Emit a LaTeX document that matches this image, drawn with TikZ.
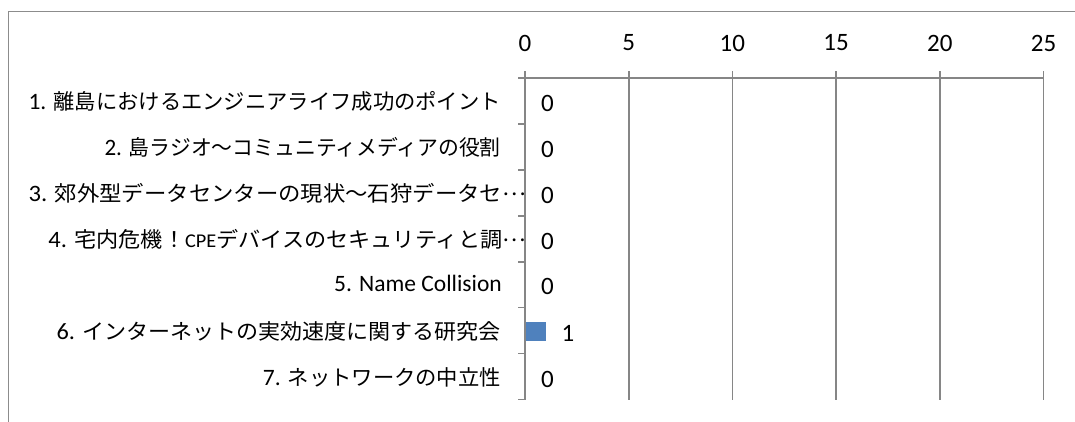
\documentclass[tikz,border=0pt]{standalone}
\usepackage{fontspec}
\setmainfont{Carlito}
\newfontfamily\cjk{Noto Sans CJK JP}
\definecolor{gridgray}{HTML}{868686}
\definecolor{framegray}{HTML}{8C8C8C}
\definecolor{barblue}{HTML}{4F81BD}
\newcommand\jp[1]{{\fontsize{21.3}{26}\cjk #1}}
\newcommand\smlat[1]{{\fontsize{19.5}{24}\selectfont #1}}
\newcommand\midellip{\raisebox{6pt}{\fontsize{21.3}{26}\cjk …}}
\begin{document}
\begin{tikzpicture}[x=1pt,y=-1pt,
  gridline/.style={draw=gridgray,line width=1.6pt},
  axisnum/.style={font=\fontsize{25}{30}\selectfont,inner sep=0pt,anchor=center},
  catlabel/.style={font=\fontsize{23.5}{28}\selectfont,inner sep=0pt,anchor=base east},
  datalabel/.style={font=\fontsize{25}{30}\selectfont,inner sep=0pt,anchor=center},
  barbox/.style={fill=barblue,draw=none}]
\useasboundingbox (0,0) rectangle (1075,421);
\begin{scope}
  \clip (0,0) rectangle (1075,421);
  \draw[draw=framegray,line width=1.5pt] (8.3,450) -- (8.3,11.7) -- (1100,11.7);
\end{scope}
% gridlines
\foreach \i in {1,...,5}
  \draw[gridline] ({525+\i*103.7},71) -- ({525+\i*103.7},400);
% bar
\path[barbox] (525,321.7) rectangle (545.7,340.7);
% axes
\draw[gridline] (525,78) -- (1043.5,78);
\draw[gridline] (525,71) -- (525,400);
\foreach \k in {0,...,7}
  \draw[gridline] (518,{78+\k*45.93}) -- (525,{78+\k*45.93});
% axis numbers
\foreach \v [count=\i from 0] in {0,5,10,15,20,25}
  \node[axisnum] (n\i) at ({525+\i*103.7},43) {\v};
% category labels
\node[catlabel] (c1) at (501,109) {1. \jp{離島におけるエンジニアライフ成功のポイント}};
\node[catlabel] (c2) at (501,155) {\scalebox{0.978}[1]{2. \jp{島ラジオ～コミュニティメディアの役割}}};
\node[catlabel] (c3) at (526,201) {\scalebox{1.05}[1]{3. \jp{郊外型データセンターの現状～石狩データセ}\midellip}};
\node[catlabel] (c4) at (526,247) {\scalebox{1.04}[1]{4. \jp{宅内危機！}\smlat{CPE}\jp{デバイスのセキュリティと調}\midellip}};
\node[catlabel] (c5) at (502,291.7) {5. Name Collision};
\node[catlabel] (c6) at (501,339) {\scalebox{1.034}[1]{6. \jp{インターネットの実効速度に関する研究会}}};
\node[catlabel] (c7) at (501,385) {7. \jp{ネットワークの中立性}};
% data labels
\node[datalabel] (d1) at (547.5,103) {0};
\node[datalabel] (d2) at (547.5,149) {0};
\node[datalabel] (d3) at (547.5,195) {0};
\node[datalabel] (d4) at (547.5,241) {0};
\node[datalabel] (d5) at (547.5,286.5) {0};
\node[datalabel] (d6) at (568,333) {1};
\node[datalabel] (d7) at (547.5,379) {0};
\end{tikzpicture}
\end{document}
